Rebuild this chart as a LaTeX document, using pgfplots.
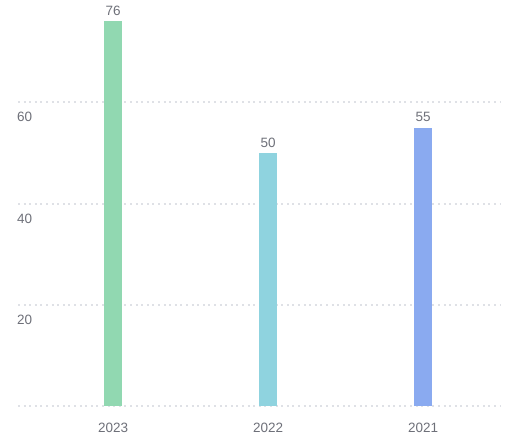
\documentclass[border=0pt]{standalone}
\usepackage{pgfplots}
\pgfplotsset{compat=1.18}
\usepackage{fontspec}
\setmainfont{Liberation Sans}
\definecolor{c1}{HTML}{91D8B1}
\definecolor{c2}{HTML}{8FD3DF}
\definecolor{c3}{HTML}{8AAAF0}
\definecolor{txt}{HTML}{6E7079}
\definecolor{grd}{HTML}{DFE1E6}
\begin{document}
\begin{tikzpicture}[x=1pt,y=1pt]
\useasboundingbox (-18,-33) rectangle (488,406);
\begin{axis}[
  at={(0,0)}, anchor=south west,
  scale only axis, width=483pt, height=405pt,
  xmin=-0.613, xmax=2.503, ymin=0, ymax=80,
  clip=false,
  axis line style={draw=none},
  major tick length=0pt,
  xtick={0,1,2}, xticklabels={2023,2022,2021},
  ytick={0,20,40,60}, yticklabels={,20,40,60},
  ymajorgrids, grid style={grd, line width=2pt, dash pattern=on 2pt off 3.6pt},
  tick label style={font=\fontsize{13.5}{16}\selectfont, text=txt},
  /pgf/number format/assume math mode=true,
  yticklabel style={anchor=north west, inner sep=0pt, xshift=-1pt, yshift=-10pt},
  xticklabel style={anchor=north, inner sep=0pt, yshift=-16.5pt},
  ybar, bar width=18pt, bar shift=0pt,
  nodes near coords,
  every node near coord/.append style={font=\fontsize{13.5}{16}\selectfont, text=txt, yshift=2pt},
]
\addplot[fill=c1, draw=none] coordinates {(0,76)};
\addplot[fill=c2, draw=none] coordinates {(1,50)};
\addplot[fill=c3, draw=none] coordinates {(2,55)};
\end{axis}
\end{tikzpicture}
\end{document}
